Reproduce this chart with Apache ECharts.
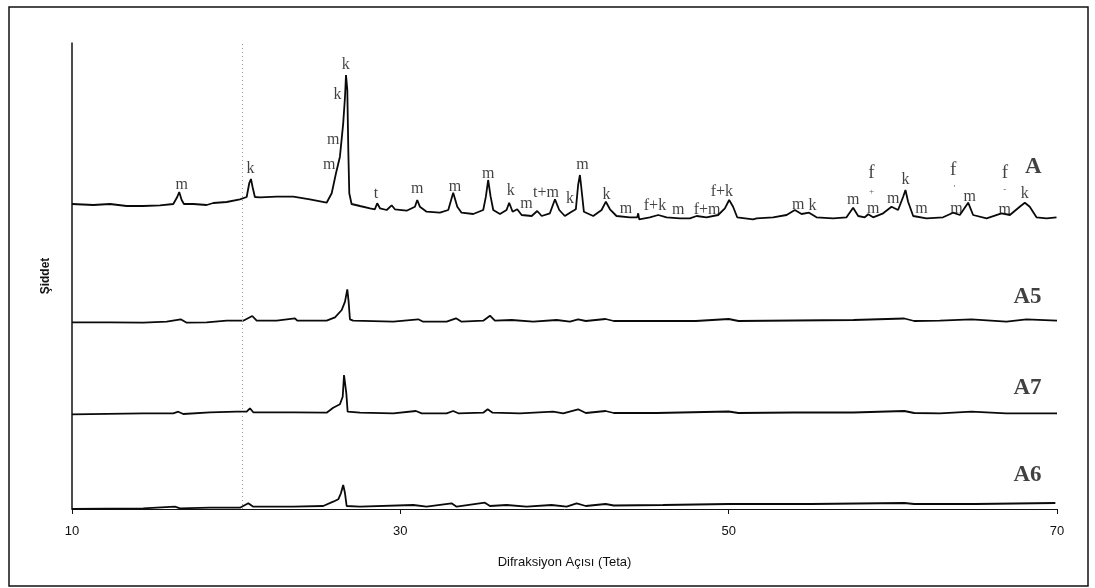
<!DOCTYPE html>
<html><head><meta charset="utf-8">
<script src="https://cdn.jsdelivr.net/npm/echarts/dist/echarts.min.js"></script>
<style>html,body{margin:0;padding:0;background:#fff}#c{width:1095px;height:588px}</style>
</head><body><div id="c"></div>
<script>
// ---- data: [2θ, relative intensity] ----
const sampleA = [
[10.00,16],[11.30,15],[12.31,16],[13.33,14],[14.34,14],[15.36,14.7],[16.17,16],[16.41,23],[16.53,28],[16.68,20],[16.82,16],
[17.39,16],[18.20,15],[18.61,17],[19.42,18],[20.23,20.7],[20.64,23],[20.80,37],[20.90,41],[21.00,33],[21.14,23],[21.45,22.7],
[22.47,23.3],[23.48,23.3],[24.49,20.7],[25.51,17.3],[25.82,26.7],[26.08,46.7],[26.32,63.3],[26.52,96.7],[26.63,123.3],[26.69,145],
[26.77,130],[26.83,70],[26.89,26.7],[27.03,16],[27.54,14],[28.15,11.7],[28.45,10.7],[28.59,16.7],[28.76,11.7],[29.17,10],
[29.47,14.7],[29.67,10.7],[30.38,9.3],[30.89,13.3],[31.03,20],[31.19,13.3],[31.60,8.3],[32.41,7.3],[32.92,10],[33.22,27.3],
[33.47,13.3],[33.73,7.3],[34.44,6],[35.05,10],[35.21,23.3],[35.35,40],[35.50,23.3],[35.66,10],[36.07,6],[36.47,10],[36.63,17.3],
[36.84,8.3],[37.12,10.7],[37.39,5],[38.00,4],[38.34,9],[38.61,4],[39.11,6.7],[39.42,20.7],[39.68,10],[40.02,4],[40.43,8.3],
[40.69,10.7],[40.83,35],[40.94,45],[41.04,30],[41.18,8.3],[41.75,4],[42.26,10],[42.52,18.3],[42.77,10.7],[43.17,4],[43.98,2.7],
[44.43,2.7],[44.49,6.7],[44.55,0.7],[45.20,2.7],[45.71,5],[46.22,2.7],[47.03,1.7],[47.64,1.7],[48.05,4],[48.65,2.7],[49.36,5],
[49.77,11.7],[50.03,20],[50.27,13.3],[50.52,2.7],[51.49,0.7],[51.70,1.7],[52.71,2.7],[53.53,5],[54.03,10],[54.44,6],[54.90,7.3],
[55.35,2.7],[56.36,1.7],[57.18,2.7],[57.58,12.3],[57.89,4],[58.29,2.7],[58.50,5.7],[58.80,2.7],[59.41,6.7],[59.92,13.3],[60.32,10],
[60.63,23.3],[60.77,30],[60.93,18.3],[61.24,4],[62.05,1.7],[63.06,2.7],[63.67,7.3],[64.08,5],[64.59,17.3],[64.89,5],[65.71,1.7],
[66.62,6.7],[67.13,5],[67.73,13.3],[68.04,17.3],[68.34,13.3],[68.75,2.7],[69.36,1.7],[69.97,2.7]
];
const sampleA5 = [
[10.00,1.7],[12.31,1.7],[14.34,1.3],[15.77,2.3],[16.62,4.7],[16.99,1.3],[18.20,1.7],[19.42,3.3],[20.43,3.3],[20.98,8],[21.25,3.3],
[22.47,3.3],[23.58,5.7],[23.72,3.3],[25.51,3.3],[26.02,6.7],[26.43,14],[26.63,22.3],[26.77,34.7],[26.85,22.3],[26.93,4.7],[27.13,3.3],
[29.57,2.3],[31.09,4.7],[31.39,2.3],[32.82,2.3],[33.39,5.7],[33.73,2.3],[35.05,3.3],[35.46,8.3],[35.76,3.3],[36.78,4],[38.09,2.3],
[39.52,4],[40.33,2.3],[40.83,4.7],[41.30,3],[42.50,5],[43.00,3],[45.50,3],[48.00,3],[50.00,5],[50.60,3],[54.00,3.5],[57.60,4],
[60.70,5.5],[61.30,3],[62.86,3.3],[64.79,4.7],[66.92,2.3],[68.14,4.7],[70.00,3.3]
];
const sampleA7 = [
[10.00,0.7],[14.34,1.7],[16.17,1.7],[16.47,3.3],[16.78,1],[18.40,2.7],[20.03,3.3],[20.64,3.3],[20.84,6.7],[21.04,2.7],[23.48,2.7],
[25.51,2.3],[25.91,7.3],[26.32,10.7],[26.49,18.3],[26.57,40],[26.64,38.3],[26.71,21.7],[26.79,3.3],[27.54,2.3],[29.57,1.7],[30.95,4],
[31.30,1.7],[32.82,1.7],[33.22,4],[33.53,1.7],[35.05,2.3],[35.32,5.7],[35.62,2.3],[37.28,1.7],[39.31,3.3],[39.92,1.7],[40.83,5.7],
[41.30,2],[42.50,4],[43.00,2],[45.60,2],[50.00,3.5],[50.60,2],[54.00,2.5],[57.60,2.5],[60.70,4],[61.30,2],[62.86,1.7],[64.79,3.3],
[66.90,1.7],[70.00,1.7]
];
const sampleA6 = [
[10.00,0],[14.34,0.7],[16.27,2.3],[16.58,0.7],[18.40,1.3],[20.23,1.3],[20.74,5.7],[21.04,2.3],[23.48,2.3],[25.30,3],[25.91,7.3],
[26.22,9.7],[26.38,15.7],[26.52,24],[26.63,15.7],[26.73,3],[27.54,2.3],[30.79,4],[31.60,2.3],[33.12,5.7],[33.43,2.3],[35.15,6.3],
[35.46,3],[36.47,4],[37.69,2.3],[39.21,4],[40.13,2.3],[40.74,5.7],[41.30,3],[42.50,5],[43.00,3.5],[46.00,4],[50.00,5],[55.00,5],
[60.70,6],[61.30,5],[65.00,5],[69.90,6]
];
const sampleNames = ['A', 'A5', 'A7', 'A6'];
const sampleOffsets = [289, 185, 94, 0];
// phase annotations on pattern A: [2θ, intensity, text]
const peakLabelsA = [
[16.68,35,'m'],[20.88,51.7,'k'],[25.67,55,'m'],[25.91,80,'m'],[26.18,125,'k'],[26.67,155,'k'],[28.51,26.7,'t'],[31.03,31.7,'m'],
[33.33,33.3,'m'],[35.35,46.7,'m'],[36.72,29,'k'],[37.69,16.7,'m'],[38.87,27.3,'t+m'],[40.33,21.7,'k'],[41.10,55,'m'],[42.56,25,'k'],
[43.74,11.7,'m'],[45.51,14,'f+k'],[46.92,10,'m'],[48.69,10.7,'f+m'],[49.59,28.3,'f+k'],[54.23,15,'m'],[55.11,14,'k'],[57.58,20,'m'],
[58.70,46.7,'f'],[58.80,11.7,'m'],[60.02,21.7,'m'],[60.77,40,'k'],[61.75,11.7,'m'],[63.67,50,'f'],[63.88,11,'m'],[64.69,23.3,'m'],
[66.82,46.7,'f'],[66.82,10,'m'],[68.04,26.7,'k']
];
const smallMarksA = [[58.70,28.3,'+'],[63.75,31,'\''],[66.82,30,'-']];
// sample name labels: [2θ, intensity above own baseline]
const nameLabelPos = [[68.55,52.7],[68.2,27.3],[68.2,26.7],[68.2,34]];

const chart = echarts.init(document.getElementById('c'));
const clear = { color: 'rgba(0,0,0,0)', borderWidth: 0 };
const traceSeries = [sampleA, sampleA5, sampleA7, sampleA6].map((d, i) => ({
  type: 'line', name: sampleNames[i], showSymbol: false, symbol: 'none',
  data: d.map(p => [p[0], p[1] + sampleOffsets[i]]),
  lineStyle: { color: '#0a0a0a', width: 1.8 }, z: 3, silent: true,
  markLine: i === 3 ? {
    silent: true, symbol: 'none', label: { show: false },
    lineStyle: { color: '#9a9a9a', type: [1, 3], width: 1 },
    data: [{ xAxis: 20.35 }]
  } : undefined
}));
function textSeries(rows, font) {
  return {
    type: 'scatter', symbol: 'circle', symbolSize: 2, itemStyle: clear, silent: true, z: 5,
    data: rows,
    label: Object.assign({ show: true, position: 'inside', color: '#111',
      formatter: p => p.data[2] === 'f' ? '{big|f}' : p.data[2],
      rich: { big: { fontFamily: 'Liberation Serif', fontSize: 19, color: '#111' } } }, font),
    labelLayout: { hideOverlap: false }
  };
}
const labelSeries = textSeries(peakLabelsA.map(p => [p[0], p[1] + sampleOffsets[0], p[2]]),
  { fontFamily: 'Liberation Serif', fontSize: 16 });
const markSeries = textSeries(smallMarksA.map(p => [p[0], p[1] + sampleOffsets[0], p[2]]),
  { fontFamily: 'Liberation Serif', fontSize: 9, color: '#333' });
const nameSeries = textSeries(nameLabelPos.map((p, i) => [p[0], p[1] + sampleOffsets[i], sampleNames[i]]),
  { fontFamily: 'Liberation Serif', fontWeight: 'bold', fontSize: 23 });

chart.setOption({
  animation: false,
  backgroundColor: '#fff',
  grid: { left: 72, right: 38, top: 43, bottom: 79 },
  xAxis: {
    type: 'value', min: 10, max: 70, interval: 20,
    name: 'Difraksiyon Açısı (Teta)', nameLocation: 'middle', nameGap: 47,
    nameTextStyle: { fontFamily: 'Liberation Sans', fontSize: 13, color: '#111' },
    axisLine: { show: true, lineStyle: { color: '#111', width: 1 } },
    axisTick: { show: true, inside: false, length: 5, lineStyle: { color: '#111' } },
    axisLabel: { fontFamily: 'Liberation Sans', fontSize: 13, color: '#111', margin: 16 },
    splitLine: { show: false }
  },
  yAxis: {
    type: 'value', min: 0, max: 466,
    name: 'Şiddet', nameLocation: 'middle', nameGap: 20, nameRotate: 90,
    nameTextStyle: { fontFamily: 'Liberation Sans', fontSize: 12, fontWeight: 'bold', color: '#111' },
    axisLine: { show: true, lineStyle: { color: '#111', width: 1.5 } },
    axisTick: { show: false }, axisLabel: { show: false }, splitLine: { show: false }
  },
  graphic: [{
    type: 'rect', shape: { x: 9, y: 7, width: 1079, height: 579 },
    style: { fill: 'none', stroke: '#111', lineWidth: 1.5 }, silent: true, z: 0
  }],
  series: [...traceSeries, labelSeries, markSeries, nameSeries]
});
</script></body></html>
